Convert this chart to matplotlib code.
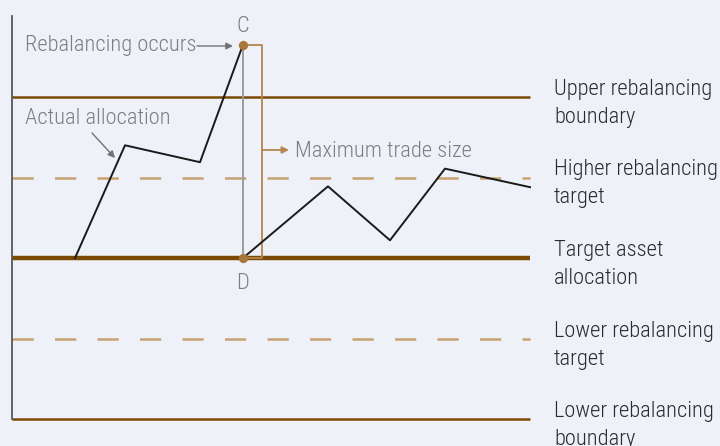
import matplotlib
matplotlib.use("Agg")
import matplotlib.pyplot as plt
from matplotlib import font_manager

names = {f.name for f in font_manager.fontManager.ttflist}
prefs = ["Roboto Condensed", "Liberation Sans Narrow", "Archivo Narrow", "PT Sans Narrow",
         "Open Sans Condensed", "Roboto", "DejaVu Sans"]
fam = [n for n in prefs if n in names]
plt.rcParams['font.family'] = fam

# Levels (allocation deviation units)
level_names = [("Upper rebalancing", "boundary"), ("Higher rebalancing", "target"),
               ("Target asset", "allocation"), ("Lower rebalancing", "target"),
               ("Lower rebalancing", "boundary")]
level_values = [2.0, 1.0, 0.0, -1.0, -2.0]
level_styles = ["solid", "dashed", "thick", "dashed", "solid"]

# Actual allocation path (time, value)
path1_t = [75, 125, 200, 243]
path1_v = [0.0, 1.40, 1.19, 2.65]
path2_t = [243, 328, 390, 445, 530]
path2_v = [0.0, 0.89, 0.22, 1.11, 0.88]

rebalance_t = 243
C_val = 2.65
D_val = 0.0

BG = "#eef1f8"
BROWN = "#7a4a05"
DASH = "#c9a273"
TAN = "#b38650"
DOT = "#a87838"
GRAY_TXT = "#7b7e82"
FW = 300

fig = plt.figure(figsize=(7.2, 4.46), dpi=100, facecolor=BG)
ax = fig.add_axes([0, 0, 1, 1])
ax.set_facecolor(BG)
ax.set_xlim(0, 720)
U = 80.5  # pixels per unit
ax.set_ylim((258 - 446) / U, 258 / U)
ax.axis("off")


def py(p):
    """pixel row -> value units (for annotation placement only)"""
    return (258 - p) / U


x0, x1 = 12, 530
for v, st in zip(level_values, level_styles):
    if st == "solid":
        ax.plot([x0, x1], [v, v], color=BROWN, lw=1.8, solid_capstyle="butt", zorder=2)
    elif st == "thick":
        ax.plot([x0, x1], [v, v], color=BROWN, lw=3.2, solid_capstyle="butt", zorder=2)
    else:
        ax.plot([x0, x1], [v, v], color=DASH, lw=1.8, dashes=(8.5, 8.5), zorder=2)

# vertical axis
ax.plot([x0, x0], [level_values[-1], py(16)], color="#55585c", lw=1.3, zorder=3)

# vertical gray line C-D
ax.plot([rebalance_t, rebalance_t], [D_val, C_val], color="#9a9da2", lw=1.4, zorder=3)

# bracket
bx = 262
ax.plot([rebalance_t, bx, bx, rebalance_t], [C_val, C_val, D_val, D_val],
        color=TAN, lw=1.3, zorder=3)

# actual allocation
ax.plot(path1_t, path1_v, color="#1a1a1a", lw=1.4, zorder=4)
ax.plot(path2_t, path2_v, color="#1a1a1a", lw=1.4, zorder=4)

# dots
ax.scatter([rebalance_t, rebalance_t], [C_val, D_val], s=45, color=DOT, zorder=5, linewidths=0)

fs = 16.2
ax.text(rebalance_t, py(32), "C", ha="center", va="baseline", color=GRAY_TXT, fontsize=fs, fontweight=FW)
ax.text(rebalance_t, py(289), "D", ha="center", va="baseline", color=GRAY_TXT, fontsize=fs, fontweight=FW)

ax.text(25, py(51), "Rebalancing occurs", ha="left", va="baseline", color=GRAY_TXT, fontsize=fs, fontweight=FW)
ax.annotate("", xy=(233, py(46)), xytext=(197, py(46)),
            arrowprops=dict(arrowstyle="-|>", color="#6f7276", lw=1.0,
                            mutation_scale=10, shrinkA=0, shrinkB=0))

ax.text(25, py(124), "Actual allocation", ha="left", va="baseline", color=GRAY_TXT, fontsize=fs, fontweight=FW)
ax.annotate("", xy=(115, py(158)), xytext=(92, py(133)),
            arrowprops=dict(arrowstyle="-|>", color="#6f7276", lw=1.0,
                            mutation_scale=10, shrinkA=0, shrinkB=0))

ax.annotate("", xy=(289, py(150)), xytext=(bx, py(150)),
            arrowprops=dict(arrowstyle="-|>", color=TAN, lw=1.3,
                            mutation_scale=10, shrinkA=0, shrinkB=0))
ax.text(295, py(157), "Maximum trade size", ha="left", va="baseline", color=GRAY_TXT, fontsize=fs, fontweight=FW)

for (l1, l2), v in zip(level_names, level_values):
    ax.text(554, v + 2 / U, l1, ha="left", va="baseline", color="#2b2b2b", fontsize=fs, fontweight=FW)
    ax.text(554, v - 26 / U, l2, ha="left", va="baseline", color="#2b2b2b", fontsize=fs, fontweight=FW)

fig.savefig("out.png", dpi=100, facecolor=BG)
